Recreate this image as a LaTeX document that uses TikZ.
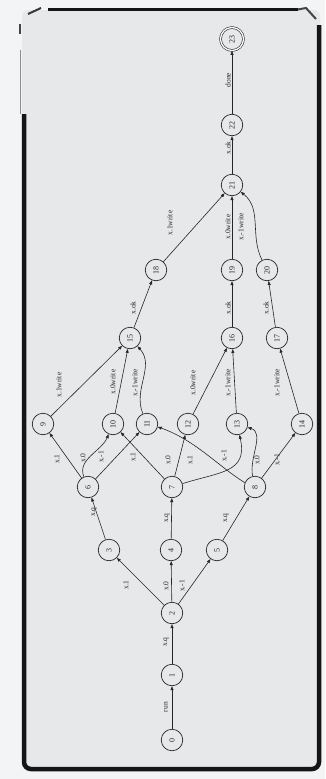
\documentclass[tikz,border=0pt]{standalone}
\usepackage{fontspec}
\setmainfont{Liberation Serif}
\usetikzlibrary{arrows.meta}
\definecolor{bgin}{HTML}{E6E8EA}
\definecolor{bgout}{HTML}{F3F4F5}
\definecolor{framec}{HTML}{151515}
\definecolor{ink}{HTML}{262626}
\begin{document}
\begin{tikzpicture}[x=1pt,y=1pt,
  st/.style={circle,draw=ink,line width=0.7pt,minimum size=21.5pt,inner sep=0pt,text=ink,font=\fontsize{8}{9}\selectfont,rotate=90},
  fin/.style={st,double,double distance=1.3pt,line width=0.6pt,minimum size=23pt},
  el/.style={font=\fontsize{7.5}{9}\selectfont,text=ink,rotate=90,inner sep=0pt},
  tr/.style={draw=ink,-{Triangle[length=4pt,width=3pt]},line width=0.6pt}]
\useasboundingbox (0,0) rectangle (325,-779);
\fill[bgout] (0,0) rectangle (325,-779);
\fill[bgin,rounded corners=6pt] (22,-10) rectangle (320,-771);
% frame
\draw[framec,line width=4.5pt,rounded corners=7pt] (24,-114) -- (24,-769) -- (319,-769) -- (319,-25);
\draw[black!45,line width=1pt] (20,-50) -- (20,-114);
\draw[framec!80,line width=1.5pt] (20,-24) -- (20,-34);
\draw[framec,line width=3pt] (48,-9.5) -- (298,-9.5);
\draw[framec!85,line width=2pt] (28,-14) -- (41,-8);
\draw[framec!80,line width=2pt] (298,-9.5) -- (306,-8) -- (316,-19);
% nodes
\node[st] (n0) at (172,-740) {0};
\node[st] (n1) at (172,-675) {1};
\node[st] (n2) at (172,-613) {2};
\node[st] (n3) at (109,-550) {3};
\node[st] (n4) at (171,-550) {4};
\node[st] (n5) at (217,-550) {5};
\node[st] (n6) at (88,-487) {6};
\node[st] (n7) at (172,-487) {7};
\node[st] (n8) at (255,-487) {8};
\node[st] (n9) at (43,-424) {9};
\node[st] (n10) at (113,-424) {10};
\node[st] (n11) at (147,-424) {11};
\node[st] (n12) at (188,-424) {12};
\node[st] (n13) at (237,-424) {13};
\node[st] (n14) at (302,-424) {14};
\node[st] (n15) at (130,-338) {15};
\node[st] (n16) at (232,-338) {16};
\node[st] (n17) at (277,-338) {17};
\node[st] (n18) at (156,-270) {18};
\node[st] (n19) at (232,-270) {19};
\node[st] (n20) at (267,-270) {20};
\node[st] (n21) at (232,-185) {21};
\node[st] (n22) at (232,-125) {22};
\node[fin] (n23) at (232,-39) {23};
% edges
\draw[tr] (n0) -- (n1);
\draw[tr] (n1) -- (n2);
\draw[tr] (n2) -- (n3);
\draw[tr] (n2) -- (n4);
\draw[tr] (n2) -- (n5);
\draw[tr] (n3) -- (n6);
\draw[tr] (n4) -- (n7);
\draw[tr] (n5) -- (n8);
\draw[tr] (n6) -- (n9);
\draw[tr] (n6) to[out=90,in=225] (n10);
\draw[tr] (n6) -- (n11);
\draw[tr] (n7) -- (n10);
\draw[tr] (n7) -- (n12);
\draw[tr] (n7) to[out=5,in=-90,looseness=1.35] (n13);
\draw[tr] (n8.67) .. controls (218,-466) and (195,-440) .. (n11.255);
\draw[tr] (n8) to[out=80,in=-40] (n13);
\draw[tr] (n8) -- (n14);
\draw[tr] (n9) -- (n15);
\draw[tr] (n10) -- (n15);
\draw[tr] (n11) to[out=95,in=-65] (n15);
\draw[tr] (n12) -- (n16);
\draw[tr] (n13) -- (n16);
\draw[tr] (n14) -- (n17);
\draw[tr] (n15) -- (n18);
\draw[tr] (n16) -- (n19);
\draw[tr] (n17) -- (n20);
\draw[tr] (n18) -- (n21);
\draw[tr] (n19) -- (n21);
\draw[tr] (n20) to[out=100,in=-55] (n21);
\draw[tr] (n21) -- (n22);
\draw[tr] (n22) -- (n23);
% labels
\node[el] (l0) at (166,-707) {run};
\node[el] (l1) at (166,-642) {x.q};
\node[el] (l2) at (126,-585) {x.1};
\node[el] (l3) at (166,-586) {x.0};
\node[el] (l4) at (182,-586) {x.-1};
\node[el] (l5) at (94,-512) {x.q};
\node[el] (l6) at (167,-518) {x.q};
\node[el] (l7) at (226,-518) {x.q};
\node[el] (l8) at (57,-459) {x.1};
\node[el] (l9) at (83,-458) {x.0};
\node[el] (l10) at (101,-457) {x.-1};
\node[el] (l11) at (133,-457) {x.1};
\node[el] (l12) at (168,-460) {x.0};
\node[el] (l13) at (190,-460) {x.1};
\node[el] (l14) at (224,-456) {x.-1};
\node[el] (l15) at (257,-460) {x.0};
\node[el] (l16) at (277,-460) {x.-1};
\node[el] (l17) at (59,-385) {x.1write};
\node[el] (l18) at (113,-382) {x.0write};
\node[el] (l19) at (135,-383) {x.-1write};
\node[el] (l20) at (193,-383) {x.0write};
\node[el] (l21) at (228,-383) {x.-1write};
\node[el] (l22) at (277,-383) {x.-1write};
\node[el] (l23) at (133,-308) {x.ok};
\node[el] (l24) at (228,-308) {x.ok};
\node[el] (l25) at (266,-308) {x.ok};
\node[el] (l26) at (170,-223) {x.1write};
\node[el] (l27) at (228,-227) {x.0write};
\node[el] (l28) at (241,-227) {x.-1write};
\node[el] (l29) at (228,-148) {x.ok};
\node[el] (l30) at (228,-80) {done};
\end{tikzpicture}
\end{document}
